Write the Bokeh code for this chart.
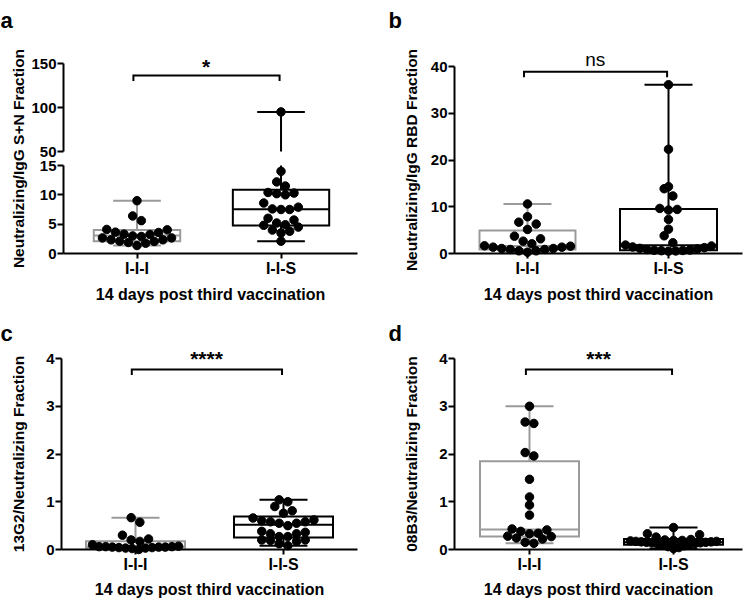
import numpy as np
from bokeh.plotting import figure
from bokeh.models import Range1d, FixedTicker, Label
from bokeh.layouts import row, column
from bokeh.embed import file_html
from bokeh.resources import INLINE

# ---------------- data ----------------
groups = ["I-I-I", "I-I-S"]
x_axis_title = "14 days post third vaccination"

# panel a (broken y axis)
a_letter = "a"
a_ylabel = "Neutralizing/IgG S+N Fraction"
a_iii = [9.0, 6.4, 5.6, 4.1, 4.03, 3.64, 3.58, 3.3, 3.24, 3.0, 2.9, 2.66, 2.66,
         2.33, 2.33, 2.1, 2.05, 1.87, 1.76, 1.36]
a_iis = [95.0, 14.0, 12.2, 11.5, 10.4, 10.3, 10.2, 10.0, 8.6, 7.9, 7.6, 7.5, 7.5,
         6.0, 5.7, 5.2, 4.9, 4.8, 4.5, 4.0, 3.8, 3.5, 2.1]
a_min = [1.36, 2.1]
a_q1 = [2.1, 4.77]
a_med = [3.07, 7.56]
a_q3 = [4.0, 10.86]
a_max = [9.0, 95.0]
a_ticks_low = [0, 5, 10, 15]
a_ticks_high = [50, 100, 150]
a_sig = "*"
a_sig_y = 136.4

# panel b
b_letter = "b"
b_ylabel = "Neutralizing/IgG RBD Fraction"
b_iii = [10.6, 7.86, 6.7, 6.29, 5.14, 3.71, 3.14, 2.64, 2.07, 1.64, 1.57, 1.36,
         1.36, 1.07, 1.07, 0.86, 0.86, 0.57, 0.57, 0.29]
b_iis = [36.1, 22.3, 14.3, 13.86, 12.3, 9.64, 9.43, 9.29, 7.29, 5.21, 3.79, 2.29,
         1.8, 1.6, 1.4, 1.25, 1.1, 0.95, 0.85, 0.75, 0.7, 0.65, 0.6, 0.55, 0.5]
b_min = [0.29, 0.5]
b_q1 = [0.86, 0.71]
b_med = [1.6, 1.79]
b_q3 = [4.93, 9.5]
b_max = [10.6, 36.1]
b_ticks = [0, 10, 20, 30, 40]
b_sig = "ns"
b_sig_y = 38.9

# panel c
c_letter = "c"
c_ylabel = "13G2/Neutralizing Fraction"
c_iii = [0.667, 0.57, 0.30, 0.22, 0.20, 0.17, 0.10, 0.07, 0.06, 0.06, 0.06, 0.05,
         0.05, 0.05, 0.04, 0.04, 0.03, 0.03, 0.02, 0.0]
c_iis = [1.04, 1.0, 0.9, 0.81, 0.76, 0.66, 0.62, 0.6, 0.58, 0.58, 0.55, 0.55, 0.5,
         0.38, 0.36, 0.33, 0.33, 0.27, 0.27, 0.2, 0.2, 0.19, 0.17, 0.12, 0.08]
c_min = [0.0, 0.08]
c_q1 = [0.035, 0.25]
c_med = [0.055, 0.52]
c_q3 = [0.174, 0.69]
c_max = [0.667, 1.04]
c_ticks = [0, 1, 2, 3, 4]
c_sig = "****"
c_sig_y = 3.77

# panel d
d_letter = "d"
d_ylabel = "08B3/Neutralizing Fraction"
d_iii = [3.0, 2.67, 2.64, 2.03, 1.96, 1.47, 1.1, 0.93, 0.72, 0.43, 0.41, 0.38,
         0.34, 0.33, 0.28, 0.27, 0.24, 0.22, 0.15, 0.13]
d_iis = [0.46, 0.33, 0.31, 0.26, 0.21, 0.2, 0.19, 0.19, 0.18, 0.17, 0.17, 0.16,
         0.16, 0.15, 0.15, 0.14, 0.14, 0.13, 0.12, 0.11, 0.1, 0.08, 0.06, 0.04, 0.02]
d_min = [0.13, 0.02]
d_q1 = [0.27, 0.1]
d_med = [0.42, 0.15]
d_q3 = [1.85, 0.22]
d_max = [3.0, 0.46]
d_ticks = [0, 1, 2, 3, 4]
d_sig = "***"
d_sig_y = 3.77

# ---------------- style / layout ----------------
FONT = "Liberation Sans"
GROUP_COLORS = ["#9a9a9a", "#000000"]
DOT = 8.5
ROW_TOL = 7.8      # px: values closer than this share a swarm row
STEP = 8.7         # px between neighbours in a row
MAX_ROW = 86       # px maximum width of a row

TOP_H, BOT_H = 305, 295
SL, SR = 28, 36                # side (title) figure widths
LW, RW = 357, 328              # main figure widths (total 749)
L_LR = (33, 28)                # left/right min borders, left column -> frame 296
R_LR = (33, 7)                 # right column -> frame 288


def swarm(vals, ppu_y, ppu_x):
    vals = np.asarray(vals, float)
    order = np.argsort(vals, kind="stable")
    offs = np.zeros(len(vals))
    rows, cur = [], []
    for i in order:
        if cur and (vals[i] - vals[cur[0]]) * ppu_y >= ROW_TOL:
            rows.append(cur)
            cur = []
        cur.append(i)
    if cur:
        rows.append(cur)
    for r in rows:
        n = len(r)
        s = min(STEP, MAX_ROW / (n - 1)) if n > 1 else STEP
        if n % 2:
            slots = [0] + [k for j in range(1, n // 2 + 1) for k in (j, -j)]
        else:
            slots = [k for j in range(n // 2) for k in (j + 0.5, -(j + 0.5))]
        for idx, sl in zip(r, slots):
            offs[idx] = sl * s / ppu_x
    return offs


def base_fig(width, height, xr, yr, ticks, bounds, borders, show_x=True, title_gap=6):
    p = figure(width=width, height=height, x_range=Range1d(*xr), y_range=Range1d(*yr),
               output_backend="svg", toolbar_location=None, tools="",
               min_border_left=borders[0], min_border_right=borders[1],
               min_border_top=borders[2], min_border_bottom=borders[3])
    p.outline_line_color = None
    p.grid.visible = False
    p.background_fill_color = "white"
    p.border_fill_color = "white"
    ax = p.yaxis[0]
    ax.ticker = FixedTicker(ticks=ticks)
    ax.bounds = bounds
    ax.axis_line_width = 2
    ax.major_tick_line_width = 2
    ax.major_tick_out = 6
    ax.major_tick_in = 0
    ax.minor_tick_out = 0
    ax.minor_tick_in = 0
    ax.major_label_standoff = 1
    ax.major_label_text_font = FONT
    ax.major_label_text_font_style = "bold"
    ax.major_label_text_font_size = "15px"
    ax.major_label_text_color = "black"
    ax = p.xaxis[0]
    if not show_x:
        ax.visible = False
        return p
    ax.ticker = FixedTicker(ticks=[1, 2])
    ax.major_label_overrides = {1: groups[0], 2: groups[1]}
    ax.axis_line_width = 2
    ax.major_tick_line_width = 2
    ax.major_tick_out = 5
    ax.major_tick_in = 0
    ax.minor_tick_out = 0
    ax.minor_tick_in = 0
    ax.major_label_standoff = 1
    ax.major_label_text_font = FONT
    ax.major_label_text_font_style = "bold"
    ax.major_label_text_font_size = "16px"
    ax.major_label_text_color = "black"
    ax.axis_label = x_axis_title
    ax.axis_label_standoff = title_gap
    ax.axis_label_text_font = FONT
    ax.axis_label_text_font_style = "bold"
    ax.axis_label_text_font_size = "16px"
    ax.axis_label_text_color = "black"
    return p


def draw_groups(p, ppu_x, ppu_y, series, stats, box_px, ylim=None):
    lo, q1, med, q3, hi = stats
    for g in range(2):
        x = g + 1
        col = GROUP_COLORS[g]
        hw = box_px[g] / 2 / ppu_x
        cw = 24 / ppu_x
        p.quad(left=[x - hw], right=[x + hw], bottom=[q1[g]], top=[q3[g]],
               fill_color=None, line_color=col, line_width=2, line_join="miter")
        p.segment(x0=[x - hw], x1=[x + hw], y0=[med[g]], y1=[med[g]],
                  line_color=col, line_width=2)
        p.segment(x0=[x, x], x1=[x, x], y0=[q3[g], q1[g]], y1=[hi[g], lo[g]],
                  line_color=col, line_width=2)
        p.segment(x0=[x - cw, x - cw], x1=[x + cw, x + cw], y0=[hi[g], lo[g]],
                  y1=[hi[g], lo[g]], line_color=col, line_width=2)
    for g in range(2):
        vals = np.asarray(series[g], float)
        xs = (g + 1) + swarm(vals, ppu_y, ppu_x)
        keep = np.ones(len(vals), bool)
        if ylim is not None:
            keep = (vals >= ylim[0]) & (vals <= ylim[1])
        p.scatter(xs[keep], vals[keep], size=DOT, color="black", level="overlay")


def draw_sig(p, text, y, ppu_y, size, style, gap):
    leg = 5.5 / ppu_y
    p.line(x=[0.975, 0.975, 1.99, 1.99], y=[y - leg, y, y, y - leg],
           line_color="black", line_width=2, line_join="miter")
    p.add_layout(Label(x=1.48, y=y, y_offset=gap, text=text, text_align="center",
                       text_baseline="alphabetic", text_font=FONT,
                       text_font_size=size, text_font_style=style, text_color="black"))


def side_fig(width, height, letter, letter_x, letter_base, title, title_x, title_cy):
    s = figure(width=width, height=height, x_range=Range1d(0, width),
               y_range=Range1d(0, height), output_backend="svg",
               toolbar_location=None, tools="", min_border=0,
               x_axis_type=None, y_axis_type=None)
    s.grid.visible = False
    s.outline_line_color = None
    s.border_fill_color = "white"
    s.add_layout(Label(x=letter_x, y=height - letter_base, text=letter,
                       text_align="left", text_baseline="alphabetic",
                       text_font=FONT, text_font_style="bold",
                       text_font_size="22px", text_color="black"))
    s.add_layout(Label(x=title_x, y=height - title_cy, text=title, angle=np.pi / 2,
                       text_align="center", text_baseline="middle",
                       text_font=FONT, text_font_style="bold",
                       text_font_size="15.5px", text_color="black"))
    return column(s)


# ---------------- panel a ----------------
ax_r = (1 - 74 / 145, 1 - 74 / 145 + 296 / 145)
a_ppu_x = 145
a_ppu_lo = 88 / 15
a_ppu_hi = 88 / 100
a_up = base_fig(LW, 158, ax_r, (50, 150 + 16 / a_ppu_hi), a_ticks_high, (50, 150),
                (L_LR[0], L_LR[1], 47, 7), show_x=False)
a_lo = base_fig(LW, TOP_H - 158, ax_r, (0, 15), a_ticks_low, (0, 15),
                (L_LR[0], L_LR[1], 7, 52))
a_stats = (a_min, a_q1, a_med, a_q3, a_max)
draw_groups(a_lo, a_ppu_x, a_ppu_lo, [a_iii, a_iis], a_stats, (87, 97), ylim=(0, 15))
draw_groups(a_up, a_ppu_x, a_ppu_lo, [a_iii, a_iis], a_stats, (87, 97), ylim=(50, 150))
draw_sig(a_up, a_sig, a_sig_y, a_ppu_hi, "21px", "bold", 9)
a_side = side_fig(SL, TOP_H, a_letter, 0, 20, a_ylabel, 17.5, 158)
panel_a = row(a_side, column(a_up, a_lo))

# ---------------- panel b ----------------
bx_r = (1 - 73 / 141, 1 - 73 / 141 + 288 / 141)
b_ppu_x = 141
b_ppu_y = 187 / 40
pb = base_fig(RW, TOP_H, bx_r, (0, 40 + 18 / b_ppu_y), b_ticks, (0, 40),
              (R_LR[0], R_LR[1], 48, 52))
draw_groups(pb, b_ppu_x, b_ppu_y, [b_iii, b_iis], (b_min, b_q1, b_med, b_q3, b_max), (96, 97))
draw_sig(pb, b_sig, b_sig_y, b_ppu_y, "19px", "normal", 12)
b_side = side_fig(SR, TOP_H, b_letter, 3, 20, b_ylabel, 26, 159.5)
panel_b = row(b_side, column(pb))

# ---------------- panel c ----------------
cx_r = (1 - 74 / 148, 1 - 74 / 148 + 296 / 148)
c_ppu_x = 148
c_ppu_y = 191 / 4
pc = base_fig(LW, BOT_H, cx_r, (0, 4 + 16 / c_ppu_y), c_ticks, (0, 4),
              (L_LR[0], L_LR[1], 37, 51), title_gap=5)
draw_groups(pc, c_ppu_x, c_ppu_y, [c_iii, c_iis], (c_min, c_q1, c_med, c_q3, c_max), (99, 99))
draw_sig(pc, c_sig, c_sig_y, c_ppu_y, "21px", "bold", 11)
c_side = side_fig(SL, BOT_H, c_letter, 0, 28, c_ylabel, 17.5, 148.5)
panel_c = row(c_side, column(pc))

# ---------------- panel d ----------------
dx_r = (1 - 75 / 144, 1 - 75 / 144 + 288 / 144)
d_ppu_x = 144
d_ppu_y = 191 / 4
pd_ = base_fig(RW, BOT_H, dx_r, (0, 4 + 16 / d_ppu_y), d_ticks, (0, 4),
               (R_LR[0], R_LR[1], 37, 51), title_gap=5)
draw_groups(pd_, d_ppu_x, d_ppu_y, [d_iii, d_iis], (d_min, d_q1, d_med, d_q3, d_max), (99, 99))
draw_sig(pd_, d_sig, d_sig_y, d_ppu_y, "21px", "bold", 11)
d_side = side_fig(SR, BOT_H, d_letter, 3, 28, d_ylabel, 26, 148.5)
panel_d = row(d_side, column(pd_))

layout = column(row(panel_a, panel_b), row(panel_c, panel_d))

open("out.html", "w").write(file_html(layout, INLINE, "Neutralizing fractions"))
